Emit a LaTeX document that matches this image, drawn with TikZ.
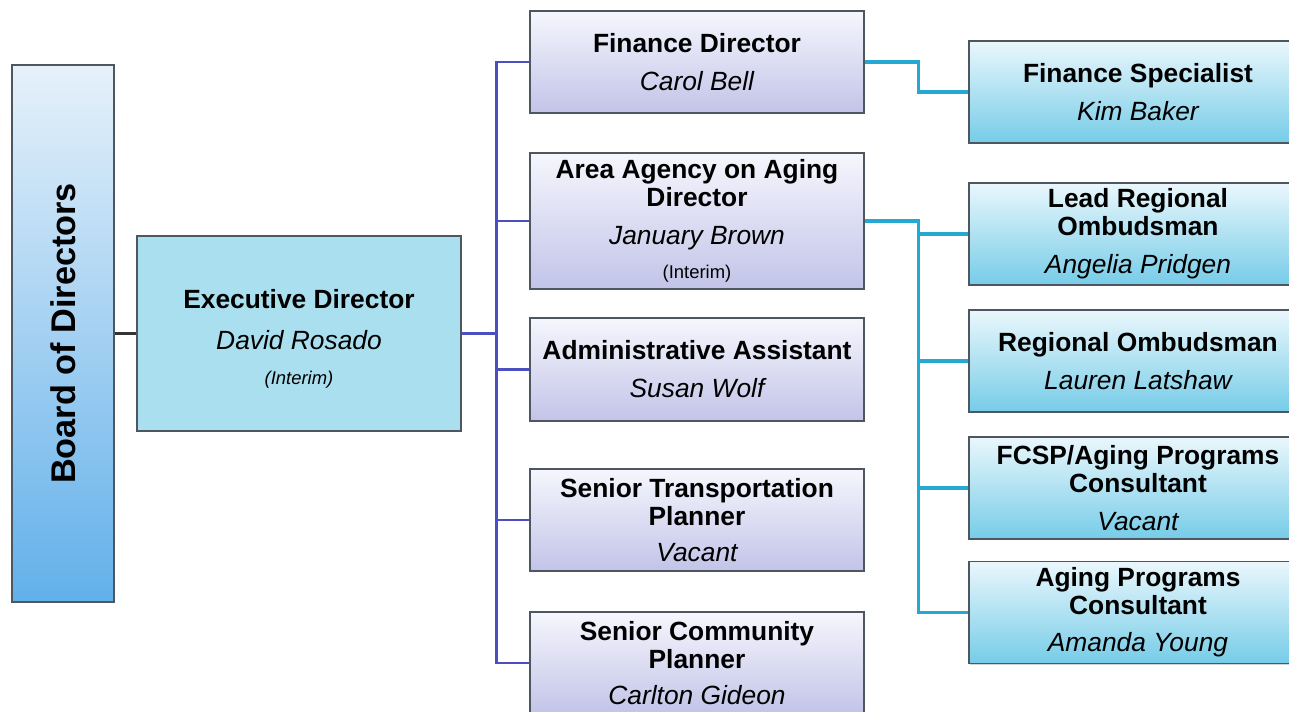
\documentclass[tikz,border=0pt]{standalone}
\usepackage{fontspec}
\setmainfont{Liberation Sans}
\usepackage{graphicx}
\usetikzlibrary{calc}
\usetikzlibrary{shadows}

\newlength{\upx}
\setlength{\upx}{0.02cm}

\definecolor{midtop}{HTML}{F6F6FD}
\definecolor{midbot}{HTML}{C2C4E8}
\definecolor{subtop}{HTML}{EAF7FC}
\definecolor{subbot}{HTML}{76CCE8}
\definecolor{boardtop}{HTML}{E6F1FA}
\definecolor{boardbot}{HTML}{62B0EA}
\definecolor{execfill}{HTML}{A9DFEF}
\definecolor{busblue}{HTML}{4B4FBF}
\definecolor{subcyan}{HTML}{25A9D3}
\definecolor{boxedge}{HTML}{4E5660}

\newcommand{\ttl}[1]{{\bfseries #1}}
\newcommand{\nm}[1]{{\itshape #1}}
\newcommand{\intr}[1]{{\fontsize{10.5}{16}\selectfont #1}}

\tikzset{
  orgbox/.style={draw=boxedge, line width=0.6pt, inner sep=0pt, align=center,
    font=\fontsize{15}{16}\selectfont,
    drop shadow={shadow xshift=0.6pt, shadow yshift=-0.8pt, opacity=0.35}},
  boardbox/.style={orgbox, top color=boardtop, bottom color=boardbot,
    minimum width=102\upx, minimum height=537\upx},
  execbox/.style={orgbox, fill=execfill, minimum width=324\upx, minimum height=195\upx},
  midbox/.style={orgbox, top color=midtop, bottom color=midbot,
    minimum width=334\upx, minimum height=102\upx},
  subbox/.style={orgbox, top color=subtop, bottom color=subbot,
    minimum width=338\upx, minimum height=102\upx},
  topline/.style={draw=black!80, line width=1.5pt},
  busline/.style={draw=busblue, line width=1.6pt},
  subline/.style={draw=subcyan, line width=1.8pt},
}

\begin{document}
\begin{tikzpicture}[x=\upx, y=-\upx]
  \useasboundingbox (0,0) rectangle (1289,712);

  % board and executive
  \node[boardbox] (board) at (63,333.5)
    {\rotatebox{90}{\fontsize{19.5}{20}\selectfont\bfseries Board of Directors}};
  \node[execbox] (exec) at (299,333.5)
    {\mbox{}\\[1pt]\ttl{Executive Director}\\[7.3pt]\nm{David Rosado}\\[4pt]\intr{\itshape (Interim)}};

  % middle column
  \node[midbox] (fin) at (697,62)
    {\ttl{Finance Director}\\[5.6pt]\nm{Carol Bell}};
  \node[midbox, minimum height=136\upx] (aaa) at (697,221)
    {\ttl{Area Agency on Aging}\\\ttl{Director}\\[5.6pt]\nm{January Brown}\\[3.4pt]\intr{(Interim)}};
  \node[midbox, minimum height=103\upx] (admin) at (697,369.5)
    {\ttl{Administrative Assistant}\\[5.6pt]\nm{Susan Wolf}};
  \node[midbox] (trans) at (697,520)
    {\ttl{Senior Transportation}\\\ttl{Planner}\\[4.5pt]\nm{Vacant}};
  \node[midbox] (comm) at (697,663)
    {\ttl{Senior Community}\\\ttl{Planner}\\[4.5pt]\nm{Carlton Gideon}};

  % right column
  \node[subbox] (fspec) at (1138,92)
    {\ttl{Finance Specialist}\\[6pt]\nm{Kim Baker}};
  \node[subbox] (lead) at (1138,234)
    {\ttl{Lead Regional}\\\ttl{Ombudsman}\\[5.6pt]\nm{Angelia Pridgen}};
  \node[subbox] (reg) at (1138,361)
    {\ttl{Regional Ombudsman}\\[6pt]\nm{Lauren Latshaw}};
  \node[subbox] (fcsp) at (1138,488)
    {\ttl{FCSP/Aging Programs}\\\ttl{Consultant}\\[5.6pt]\nm{Vacant}};
  \node[subbox] (aging) at (1138,612.5)
    {\ttl{Aging Programs}\\\ttl{Consultant}\\[5pt]\nm{Amanda Young}};

  % connectors
  \draw[topline] (board.east) -- (exec.west);
  \foreach \m in {fin, aaa, admin, trans, comm}
    \draw[busline] (exec.east) -- ++(35,0) |- (\m.west);
  \draw[subline] (fin.east) -- ++(54,0) |- (fspec.west);
  \foreach \s in {lead, reg, fcsp, aging}
    \draw[subline] (aaa.east) -- ++(54,0) |- (\s.west);
\end{tikzpicture}
\end{document}
